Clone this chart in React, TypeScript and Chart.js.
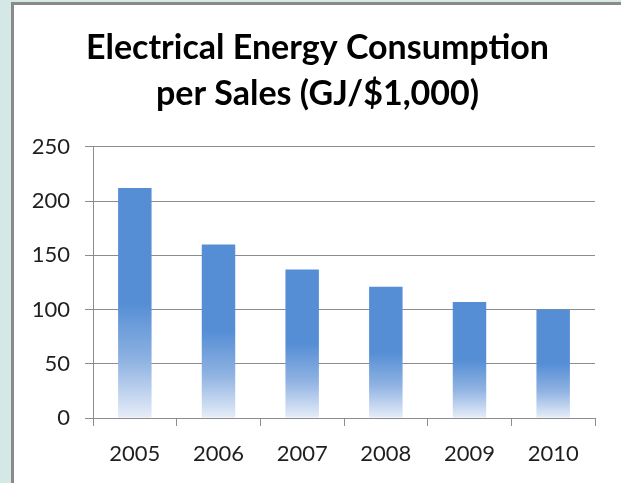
import React, { useEffect, useRef } from "react";
import { Chart, registerables } from "chart.js";

Chart.register(...registerables);

const years = ["2005", "2006", "2007", "2008", "2009", "2010"];
const consumption = [212, 160, 137, 121, 107, 100];
const titleLines = ["Electrical Energy Consumption", "per Sales (GJ/$1,000)"];
const yMin = 0;
const yMax = 250;
const yStep = 50;

const centerTitlePlugin = {
  id: "centerTitle",
  afterLayout(chart: any) {
    const t = chart.titleBlock;
    if (t) {
      t.left = 0;
      t.right = chart.width;
      t.width = chart.width;
    }
  },
};

export default function App() {
  const canvasRef = useRef<HTMLCanvasElement | null>(null);

  useEffect(() => {
    document.body.style.margin = "0";
    const canvas = canvasRef.current;
    if (!canvas) return;
    const chart = new Chart(canvas, {
      type: "bar",
      data: {
        labels: years,
        datasets: [
          {
            data: consumption,
            backgroundColor: (ctx: any) => {
              const c = ctx.chart;
              if (!c.chartArea || ctx.dataIndex === undefined || !c.scales.y) return "#558ed5";
              const ys = c.scales.y;
              const top = ys.getPixelForValue(consumption[ctx.dataIndex]);
              const bottom = ys.getPixelForValue(0);
              const g = c.ctx.createLinearGradient(0, top, 0, bottom);
              g.addColorStop(0, "#558ed5");
              g.addColorStop(0.5, "#558ed5");
              g.addColorStop(0.75, "#8fb2e2");
              g.addColorStop(1, "#e6edf8");
              return g;
            },
            borderWidth: 0,
            barPercentage: 0.5,
            categoryPercentage: 0.8,
          },
        ],
      },
      plugins: [centerTitlePlugin],
      options: {
        animation: false,
        responsive: false,
        maintainAspectRatio: false,
        layout: { padding: { left: 0, right: 26, top: 0, bottom: 0 } },
        plugins: {
          legend: { display: false },
          tooltip: { enabled: false },
          title: {
            display: true,
            text: titleLines,
            color: "#000000",
            font: { family: "Lato", size: 34, weight: "bold", lineHeight: 1.35 },
            padding: { top: 20, bottom: 30 },
          },
        },
        scales: {
          x: {
            grid: {
              display: true,
              drawOnChartArea: false,
              drawTicks: true,
              tickLength: 8,
              color: "#8c8c8c",
              offset: true,
            },
            border: { display: true, color: "#8c8c8c", width: 1 },
            ticks: {
              color: "#1f1f1f",
              font: { family: "Lato", size: 22 },
              padding: 15,
              maxRotation: 0,
            },
            afterFit: (scale: any) => {
              scale.height = 65;
            },
          },
          y: {
            min: yMin,
            max: yMax,
            ticks: {
              stepSize: yStep,
              color: "#1f1f1f",
              font: { family: "Lato", size: 22 },
              padding: 15,
            },
            grid: {
              color: "#8c8c8c",
              tickLength: 8,
              drawTicks: true,
            },
            border: { display: true, color: "#8c8c8c", width: 1 },
            afterFit: (scale: any) => {
              scale.width = 79;
            },
          },
        },
      },
    } as any);
    return () => chart.destroy();
  }, []);

  return (
    <div
      style={{
        position: "absolute",
        left: 0,
        top: 0,
        width: 621,
        height: 483,
        background: "#d4e9e5",
        overflow: "hidden",
      }}
    >
      <div
        style={{
          position: "absolute",
          left: 11,
          top: 2,
          width: 610,
          height: 481,
          background: "#ffffff",
          borderLeft: "3px solid #8a8a8a",
          borderTop: "3px solid #8a8a8a",
          boxSizing: "border-box",
        }}
      >
        <canvas ref={canvasRef} width={607} height={478} style={{ display: "block", width: 607, height: 478 }} />
      </div>
    </div>
  );
}
